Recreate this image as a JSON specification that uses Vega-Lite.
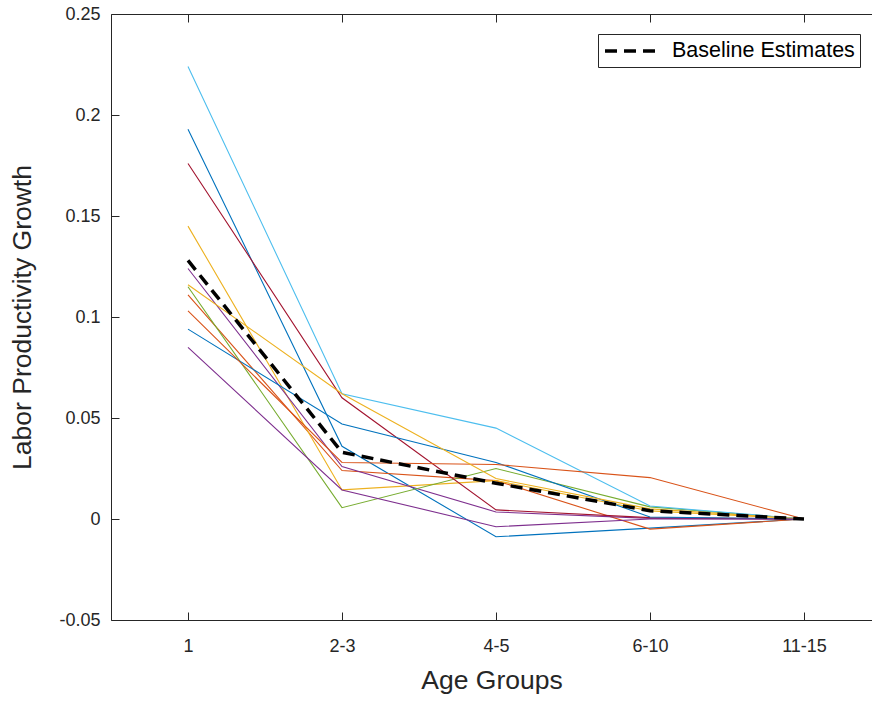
{
  "$schema": "https://vega.github.io/schema/vega-lite/v6.json",
  "width": 761,
  "height": 606,
  "autosize": {"type": "none"},
  "padding": {"left": 111, "top": 14, "right": 0, "bottom": 82},
  "background": "white",
  "config": {
    "view": {"stroke": null},
    "font": "Liberation Sans",
    "axis": {
      "domainColor": "#262626",
      "tickColor": "#262626",
      "labelColor": "#262626",
      "titleColor": "#262626",
      "labelFont": "Liberation Sans",
      "titleFont": "Liberation Sans",
      "labelFontSize": 18,
      "titleFontSize": 26.5,
      "titleFontWeight": "normal",
      "grid": false,
      "tickSize": -8,
      "domainWidth": 1,
      "tickWidth": 1
    }
  },
  "data": {
    "values": [
      {"series": "b1", "age": 1, "value": 0.193}, {"series": "b1", "age": 2, "value": 0.036}, {"series": "b1", "age": 3, "value": -0.0088}, {"series": "b1", "age": 4, "value": -0.0045}, {"series": "b1", "age": 5, "value": 0},
      {"series": "o1", "age": 1, "value": 0.111}, {"series": "o1", "age": 2, "value": 0.024}, {"series": "o1", "age": 3, "value": 0.019}, {"series": "o1", "age": 4, "value": -0.005}, {"series": "o1", "age": 5, "value": 0},
      {"series": "y1", "age": 1, "value": 0.145}, {"series": "y1", "age": 2, "value": 0.0144}, {"series": "y1", "age": 3, "value": 0.019}, {"series": "y1", "age": 4, "value": 0.004}, {"series": "y1", "age": 5, "value": 0},
      {"series": "p1", "age": 1, "value": 0.124}, {"series": "p1", "age": 2, "value": 0.026}, {"series": "p1", "age": 3, "value": 0.0035}, {"series": "p1", "age": 4, "value": 0.0003}, {"series": "p1", "age": 5, "value": 0},
      {"series": "g1", "age": 1, "value": 0.115}, {"series": "g1", "age": 2, "value": 0.0056}, {"series": "g1", "age": 3, "value": 0.025}, {"series": "g1", "age": 4, "value": 0.006}, {"series": "g1", "age": 5, "value": 0},
      {"series": "c1", "age": 1, "value": 0.224}, {"series": "c1", "age": 2, "value": 0.062}, {"series": "c1", "age": 3, "value": 0.045}, {"series": "c1", "age": 4, "value": 0.0064}, {"series": "c1", "age": 5, "value": 0},
      {"series": "r1", "age": 1, "value": 0.176}, {"series": "r1", "age": 2, "value": 0.060}, {"series": "r1", "age": 3, "value": 0.0045}, {"series": "r1", "age": 4, "value": 0.0007}, {"series": "r1", "age": 5, "value": 0},
      {"series": "b2", "age": 1, "value": 0.094}, {"series": "b2", "age": 2, "value": 0.047}, {"series": "b2", "age": 3, "value": 0.028}, {"series": "b2", "age": 4, "value": 0.001}, {"series": "b2", "age": 5, "value": 0},
      {"series": "o2", "age": 1, "value": 0.103}, {"series": "o2", "age": 2, "value": 0.028}, {"series": "o2", "age": 3, "value": 0.027}, {"series": "o2", "age": 4, "value": 0.0205}, {"series": "o2", "age": 5, "value": 0},
      {"series": "y2", "age": 1, "value": 0.116}, {"series": "y2", "age": 2, "value": 0.062}, {"series": "y2", "age": 3, "value": 0.020}, {"series": "y2", "age": 4, "value": 0.005}, {"series": "y2", "age": 5, "value": 0},
      {"series": "p2", "age": 1, "value": 0.085}, {"series": "p2", "age": 2, "value": 0.0144}, {"series": "p2", "age": 3, "value": -0.0038}, {"series": "p2", "age": 4, "value": 0.0}, {"series": "p2", "age": 5, "value": 0},
      {"series": "Baseline Estimates", "age": 1, "value": 0.128}, {"series": "Baseline Estimates", "age": 2, "value": 0.033}, {"series": "Baseline Estimates", "age": 3, "value": 0.0177}, {"series": "Baseline Estimates", "age": 4, "value": 0.0041}, {"series": "Baseline Estimates", "age": 5, "value": 0}
    ]
  },
  "layer": [
    {
      "transform": [{"filter": "datum.series != 'Baseline Estimates'"}],
      "mark": {"type": "line", "strokeWidth": 1.1, "clip": true},
      "encoding": {
        "x": {
          "field": "age", "type": "quantitative",
          "scale": {"domain": [0.5, 5.4416], "nice": false, "zero": false},
          "axis": {
            "orient": "bottom",
            "values": [1, 2, 3, 4, 5],
            "labelExpr": "['','1','2-3','4-5','6-10','11-15'][datum.value]",
            "labelFontSize": 18,
            "labelPadding": 25,
            "title": "Age Groups",
            "titleFontSize": 26.5,
            "titlePadding": 12
          }
        },
        "y": {
          "field": "value", "type": "quantitative",
          "scale": {"domain": [-0.05, 0.25], "nice": false, "zero": false},
          "axis": {
            "values": [-0.05, 0, 0.05, 0.1, 0.15, 0.2, 0.25],
            "labelExpr": "'' + round(datum.value * 100) / 100",
            "labelFontSize": 18,
            "labelPadding": 19,
            "title": "Labor Productivity Growth",
            "titleFontSize": 26.5,
            "titlePadding": 22
          }
        },
        "detail": {"field": "series"},
        "color": {
          "field": "series", "type": "nominal",
          "scale": {
            "domain": ["b1", "o1", "y1", "p1", "g1", "c1", "r1", "b2", "o2", "y2", "p2"],
            "range": ["#0072BD", "#D95319", "#EDB120", "#7E2F8E", "#77AC30", "#4DBEEE", "#A2142F", "#0072BD", "#D95319", "#EDB120", "#7E2F8E"]
          },
          "legend": null
        }
      }
    },
    {
      "transform": [{"filter": "datum.series == 'Baseline Estimates'"}],
      "mark": {"type": "line", "strokeWidth": 3.5, "color": "black", "clip": true},
      "encoding": {
        "x": {
          "field": "age", "type": "quantitative",
          "axis": {"orient": "top", "values": [1, 2, 3, 4, 5], "labels": false, "title": null}
        },
        "y": {"field": "value", "type": "quantitative"},
        "strokeDash": {
          "field": "series", "type": "nominal",
          "scale": {"domain": ["Baseline Estimates"], "range": [[12, 7]]},
          "legend": {
            "title": null,
            "orient": "none",
            "legendX": 487,
            "legendY": 20,
            "fillColor": "white",
            "strokeColor": "#262626",
            "padding": 5,
            "symbolType": "M-1,0H4.6",
            "symbolStrokeColor": "black",
            "symbolStrokeWidth": 3.5,
            "symbolSize": 400,
            "symbolDash": [12, 7],
            "labelFontSize": 21.5,
            "labelFont": "Liberation Sans",
            "labelColor": "#000000",
            "labelLimit": 400,
            "labelOffset": 45
          }
        }
      }
    }
  ],
  "resolve": {"axis": {"x": "independent"}}
}
